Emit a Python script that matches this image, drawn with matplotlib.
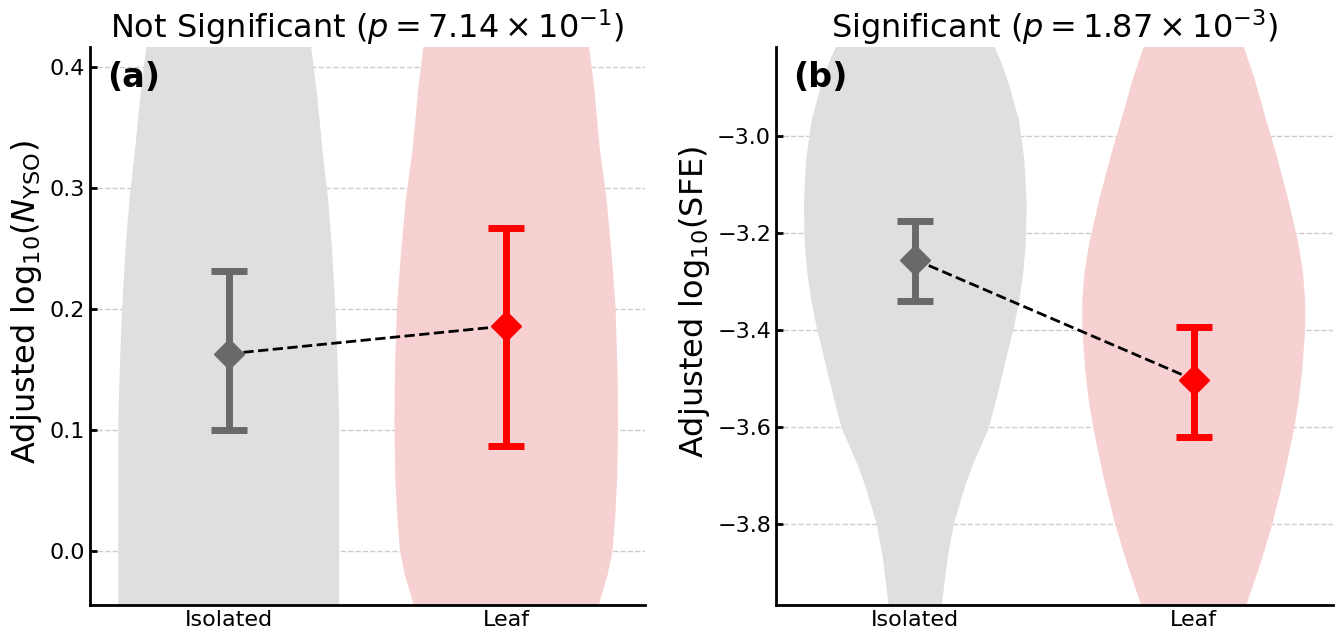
import matplotlib
matplotlib.use("Agg")
import matplotlib.pyplot as plt
import numpy as np

# group names and colours
groups = ["Isolated", "Leaf"]
violin_colors = ["#dfdfdf", "#f7d1d1"]
point_colors = ["#696969", "red"]

# panel (a): adjusted log10(N_YSO)
a_means = [0.163, 0.186]
a_err_lo = [0.063, 0.099]
a_err_hi = [0.068, 0.081]
# violin outlines: y values and half widths
a_iso_y = [-0.10, -0.045, 0.042, 0.108, 0.15, 0.201, 0.25, 0.290, 0.333, 0.38, 0.4165, 0.45]
a_iso_w = [0.398, 0.398, 0.398, 0.398, 0.393, 0.384, 0.372, 0.358, 0.337, 0.317, 0.297, 0.28]
a_leaf_y = [-0.08, -0.045, -0.02, 0.0, 0.03, 0.06, 0.108, 0.15, 0.201, 0.25, 0.290,
            0.333, 0.38, 0.4165, 0.45]
a_leaf_w = [0.30, 0.333, 0.365, 0.383, 0.393, 0.400, 0.403, 0.401, 0.394, 0.378, 0.362,
            0.337, 0.318, 0.299, 0.28]

# panel (b): adjusted log10(SFE)
b_means = [-3.255, -3.502]
b_err_lo = [0.084, 0.119]
b_err_hi = [0.080, 0.109]
b_iso_y = [-4.00, -3.964, -3.87, -3.798, -3.748, -3.72, -3.68, -3.64, -3.604, -3.54,
           -3.46, -3.40, -3.337, -3.28, -3.22, -3.138, -3.05, -2.967, -2.90, -2.85,
           -2.817, -2.78]
b_iso_w = [0.09, 0.096, 0.116, 0.139, 0.165, 0.18, 0.205, 0.235, 0.263, 0.292,
           0.326, 0.352, 0.374, 0.388, 0.397, 0.400, 0.392, 0.372, 0.34, 0.31,
           0.285, 0.26]
b_leaf_y = [-4.00, -3.964, -3.88, -3.798, -3.70, -3.604, -3.54, -3.48, -3.399, -3.337,
            -3.28, -3.22, -3.132, -3.035, -2.967, -2.885, -2.817, -2.78]
b_leaf_w = [0.17, 0.19, 0.24, 0.283, 0.325, 0.36, 0.378, 0.39, 0.40, 0.40,
            0.392, 0.375, 0.34, 0.295, 0.26, 0.22, 0.18, 0.165]

panels = [
    dict(means=a_means, lo=a_err_lo, hi=a_err_hi,
         shapes=[(a_iso_y, a_iso_w), (a_leaf_y, a_leaf_w)],
         ylim=(-0.0446, 0.4165), yticks=[0.0, 0.1, 0.2, 0.3, 0.4],
         ylabel=r"Adjusted log$_{10}$($N_{\rm YSO}$)",
         title=r"Not Significant ($p = 7.14 \times 10^{-1}$)", tag="(a)",
         rect=[90 / 1335, 30 / 635, 555 / 1335, 558 / 635]),
    dict(means=b_means, lo=b_err_lo, hi=b_err_hi,
         shapes=[(b_iso_y, b_iso_w), (b_leaf_y, b_leaf_w)],
         ylim=(-3.966, -2.817), yticks=[-3.8, -3.6, -3.4, -3.2, -3.0],
         ylabel=r"Adjusted log$_{10}$(SFE)",
         title=r"Significant ($p = 1.87 \times 10^{-3}$)", tag="(b)",
         rect=[776 / 1335, 30 / 635, 557 / 1335, 558 / 635]),
]

fig = plt.figure(figsize=(13.35, 6.35), dpi=100)
x = np.arange(len(groups))

for p in panels:
    ax = fig.add_axes(p["rect"])
    # violins from the read-off outlines
    stats = []
    for ys, ws in p["shapes"]:
        ys = np.array(ys)
        ws = np.array(ws)
        stats.append(dict(coords=ys, vals=ws, mean=ys.mean(), median=np.median(ys),
                          min=ys.min(), max=ys.max()))
    widths = [2 * max(ws) for _, ws in p["shapes"]]
    parts = ax.violin(stats, positions=x, widths=widths, showmeans=False,
                      showextrema=False, showmedians=False)
    for body, c in zip(parts["bodies"], violin_colors):
        body.set_facecolor(c)
        body.set_edgecolor("none")
        body.set_alpha(1)
        body.set_zorder(1)

    ax.plot(x, p["means"], "--", color="black", lw=2, zorder=3)
    for i in range(len(groups)):
        ax.errorbar(x[i], p["means"][i], yerr=[[p["lo"][i]], [p["hi"][i]]],
                    fmt="D", color=point_colors[i], markersize=15,
                    elinewidth=5, capsize=13, capthick=5, zorder=4)

    ax.set_xlim(-0.5, 1.5)
    ax.set_ylim(*p["ylim"])
    ax.set_yticks(p["yticks"])
    ax.set_xticks(x)
    ax.set_xticklabels(groups)
    ax.grid(axis="y", ls="--", color="#cccccc", lw=1, zorder=0)
    ax.set_axisbelow(True)
    for s in ["top", "right"]:
        ax.spines[s].set_visible(False)
    for s in ["left", "bottom"]:
        ax.spines[s].set_linewidth(2)
    ax.tick_params(direction="in", length=5, width=2, labelsize=16)
    ax.set_ylabel(p["ylabel"], fontsize=23)
    ax.yaxis.label.set_y(0.543)
    ax.set_title(p["title"], fontsize=23)
    ax.text(0.03, 0.975, p["tag"], transform=ax.transAxes, fontsize=24,
            fontweight="bold", va="top", ha="left", zorder=5)

fig.savefig("out.png", dpi=100)
